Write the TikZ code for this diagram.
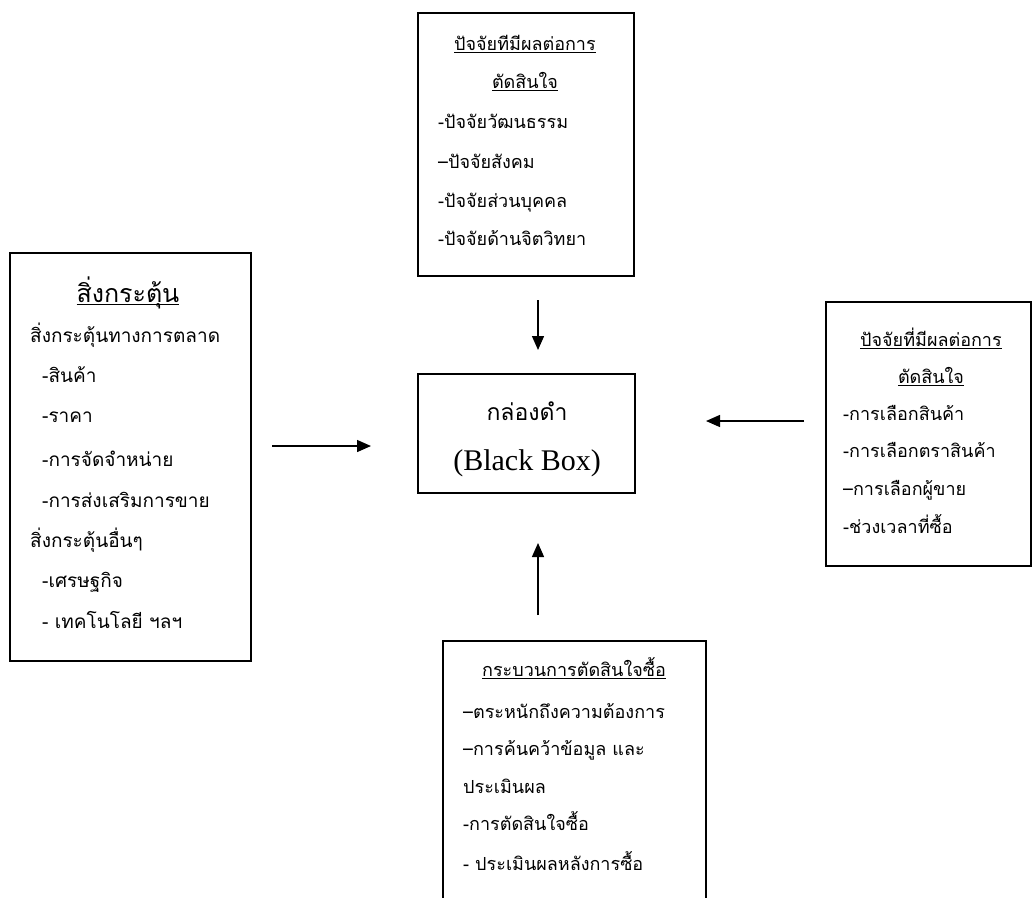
\documentclass[tikz,border=0pt]{standalone}
\usepackage{fontspec}
\setmainfont{Liberation Serif}
\newfontfamily\thai[Script=Thai]{Loma}
\usetikzlibrary{arrows.meta}
\newcommand\myul[1]{\setbox0\hbox{#1}\rlap{\rule[-2.5pt]{\wd0}{1pt}}\box0}
\begin{document}
\begin{tikzpicture}[x=1pt,y=-1pt,
  frame/.style={draw, line width=1.7pt, inner sep=0pt},
  ser/.style={font=\thai\fontsize{18}{21}\selectfont, inner sep=0pt},
  san/.style={font=\thai\fontsize{19}{22}\selectfont, inner sep=0pt},
  arr/.style={line width=1.4pt, -{Triangle[length=14pt,width=12pt]}}]
\useasboundingbox (0,0) rectangle (1033,897);
% boxes
\node[frame, minimum width=216pt, minimum height=263pt] (topbox) at (526,144.5) {};
\node[frame, minimum width=241pt, minimum height=408pt] (leftbox) at (130.5,457) {};
\node[frame, minimum width=205pt, minimum height=264pt] (rightbox) at (928.5,434) {};
\node[frame, minimum width=263pt, minimum height=290pt] (botbox) at (574.5,786) {};
\node[frame, minimum width=217pt, minimum height=119pt] (bb) at (526.5,433.5) {};
% black box text
\node[inner sep=0pt, anchor=base, font=\thai\fontsize{23}{26}\selectfont] (bb1) at (527,420) {กล่องดำ};
\node[inner sep=0pt, anchor=base, font=\fontsize{30}{34}\selectfont] (bb2) at (527,470) {(Black Box)};
% top box
\node[ser, anchor=base] (t1) at (525,50) {\myul{ปัจจัยทีมีผลต่อการ}};
\node[ser, anchor=base] (t2) at (525,88) {\myul{ตัดสินใจ}};
\node[ser, anchor=base west] (t3) at (438,128) {-ปัจจัยวัฒนธรรม};
\node[ser, anchor=base west] (t4) at (438,168) {–ปัจจัยสังคม};
\node[ser, anchor=base west] (t5) at (438,207) {-ปัจจัยส่วนบุคคล};
\node[ser, anchor=base west] (t6) at (438,245) {-ปัจจัยด้านจิตวิทยา};
% left box
\node[inner sep=0pt, anchor=base, font=\thai\fontsize{25}{28}\selectfont] (l0) at (128,302) {\myul{สิ่งกระตุ้น}};
\node[san, anchor=base west] (l1) at (30,342) {สิ่งกระตุ้นทางการตลาด};
\node[san, anchor=base west] (l2) at (42,382) {-สินค้า};
\node[san, anchor=base west] (l3) at (42,422) {-ราคา};
\node[san, anchor=base west] (l4) at (42,466) {-การจัดจำหน่าย};
\node[san, anchor=base west] (l5) at (42,507) {-การส่งเสริมการขาย};
\node[san, anchor=base west] (l6) at (30,547) {สิ่งกระตุ้นอื่นๆ};
\node[san, anchor=base west] (l7) at (42,587) {-เศรษฐกิจ};
\node[san, anchor=base west] (l8) at (42,628) {- เทคโนโลยี ฯลฯ};
% right box
\node[ser, anchor=base] (r1) at (931,346) {\myul{ปัจจัยที่มีผลต่อการ}};
\node[ser, anchor=base] (r2) at (931,383) {\myul{ตัดสินใจ}};
\node[ser, anchor=base west] (r3) at (843,420) {-การเลือกสินค้า};
\node[ser, anchor=base west] (r4) at (843,457) {-การเลือกตราสินค้า};
\node[ser, anchor=base west] (r5) at (843,495) {–การเลือกผู้ขาย};
\node[ser, anchor=base west] (r6) at (843,533) {-ช่วงเวลาที่ซื้อ};
% bottom box
\node[ser, anchor=base] (b1) at (574,676) {\myul{กระบวนการตัดสินใจซื้อ}};
\node[ser, anchor=base west] (b2) at (463,718) {–ตระหนักถึงความต้องการ};
\node[ser, anchor=base west] (b3) at (463,755) {–การค้นคว้าข้อมูล และ};
\node[ser, anchor=base west] (b4) at (463,793) {ประเมินผล};
\node[ser, anchor=base west] (b5) at (463,830) {-การตัดสินใจซื้อ};
\node[ser, anchor=base west] (b6) at (463,870) {- ประเมินผลหลังการซื้อ};
% arrows
\coordinate (a1s) at (538,300); \coordinate (a1e) at (538,350);
\coordinate (a2s) at (538,615); \coordinate (a2e) at (538,543);
\coordinate (a3s) at (272,446); \coordinate (a3e) at (371,446);
\coordinate (a4s) at (804,421); \coordinate (a4e) at (706,421);
\draw[arr] (a1s) -- (a1e);
\draw[arr] (a2s) -- (a2e);
\draw[arr] (a3s) -- (a3e);
\draw[arr] (a4s) -- (a4e);
\end{tikzpicture}
\end{document}
